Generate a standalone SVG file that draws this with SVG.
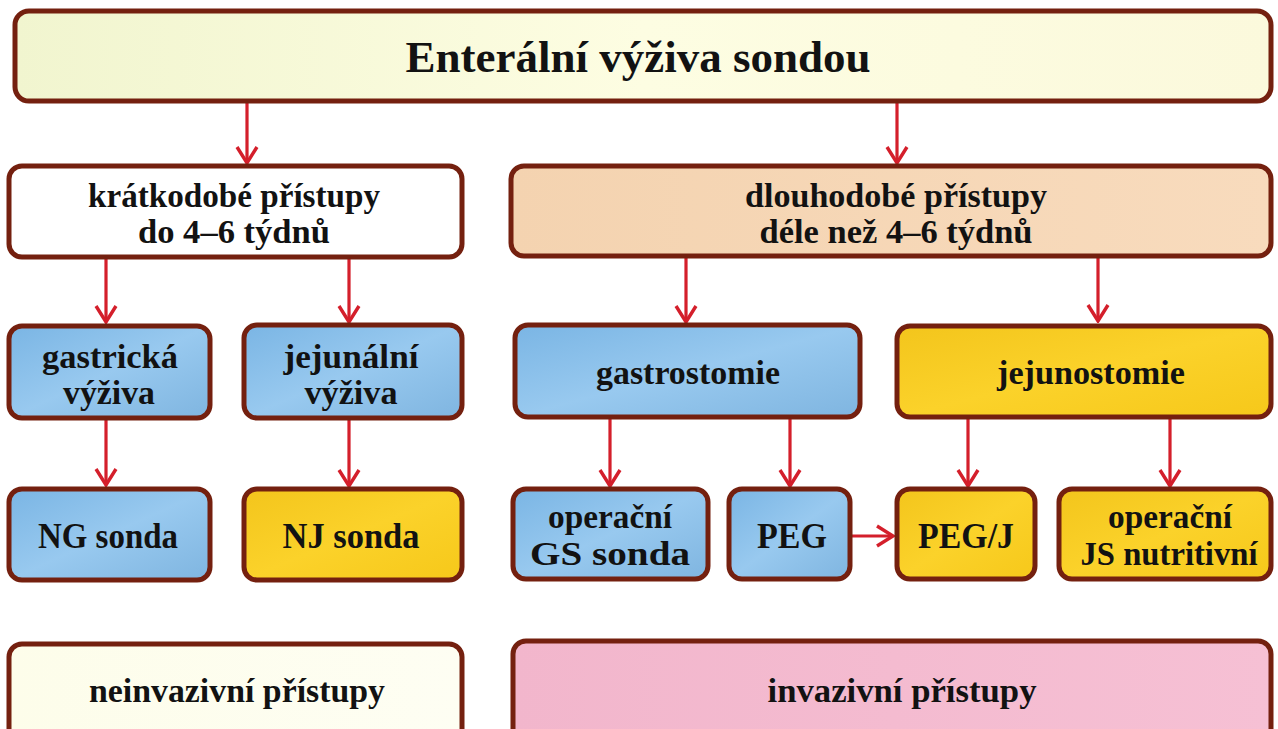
<svg xmlns="http://www.w3.org/2000/svg" width="1278" height="729" viewBox="0 0 1278 729">
<defs>
<style>
.box{stroke:#74200f;stroke-width:5}
.t{font-family:"Liberation Serif","Times New Roman",serif;font-weight:bold;fill:#121212;text-anchor:middle}
.t28{font-size:33px}
.t34{font-size:35px}
.t40{font-size:45px}
.con{stroke:#d41f2b;stroke-width:3.2;fill:none}
</style>
<linearGradient id="gTop" x1="0" y1="0" x2="1" y2="0"><stop offset="0" stop-color="#f1f5cf"/><stop offset="0.5" stop-color="#fdfde2"/><stop offset="1" stop-color="#fbf9dc"/></linearGradient>
<linearGradient id="gBlue" x1="0" y1="0" x2="1" y2="1"><stop offset="0" stop-color="#7ab5e4"/><stop offset="0.5" stop-color="#98c9ef"/><stop offset="1" stop-color="#7fb5e0"/></linearGradient>
<linearGradient id="gYel" x1="0" y1="0" x2="1" y2="1"><stop offset="0" stop-color="#f3c51c"/><stop offset="0.5" stop-color="#fbd22a"/><stop offset="1" stop-color="#f6c81a"/></linearGradient>
<linearGradient id="gPeach" x1="0" y1="0" x2="1" y2="0"><stop offset="0" stop-color="#f4d3b0"/><stop offset="1" stop-color="#f8dbbd"/></linearGradient>
<linearGradient id="gPink" x1="0" y1="0" x2="1" y2="0"><stop offset="0" stop-color="#f2b6cc"/><stop offset="1" stop-color="#f6c0d4"/></linearGradient>
<linearGradient id="gPale" x1="0" y1="0" x2="1" y2="0"><stop offset="0" stop-color="#fdfdea"/><stop offset="1" stop-color="#fefef3"/></linearGradient>
<marker id="arr" viewBox="0 0 22 24" refX="20" refY="12" markerWidth="22" markerHeight="24" markerUnits="userSpaceOnUse" orient="auto">
<path d="M4,2 L20,12 L4,22" fill="none" stroke="#d41f2b" stroke-width="3.4" stroke-linejoin="miter"/>
</marker>
</defs>
<rect width="1278" height="729" fill="#ffffff"/>

<g id="connectors">
<line class="con" x1="247" y1="103" x2="247" y2="163" marker-end="url(#arr)"/>
<line class="con" x1="897" y1="101" x2="897" y2="163" marker-end="url(#arr)"/>
<line class="con" x1="106" y1="258" x2="106" y2="322" marker-end="url(#arr)"/>
<line class="con" x1="349" y1="258" x2="349" y2="322" marker-end="url(#arr)"/>
<line class="con" x1="686" y1="258" x2="686" y2="322" marker-end="url(#arr)"/>
<line class="con" x1="1098" y1="257" x2="1098" y2="321" marker-end="url(#arr)"/>
<line class="con" x1="106" y1="419" x2="106" y2="485" marker-end="url(#arr)"/>
<line class="con" x1="349" y1="419" x2="349" y2="486" marker-end="url(#arr)"/>
<line class="con" x1="610" y1="419" x2="610" y2="486" marker-end="url(#arr)"/>
<line class="con" x1="790" y1="419" x2="790" y2="486" marker-end="url(#arr)"/>
<line class="con" x1="968" y1="419" x2="968" y2="486" marker-end="url(#arr)"/>
<line class="con" x1="1170" y1="419" x2="1170" y2="486" marker-end="url(#arr)"/>
<line class="con" x1="852" y1="536" x2="893" y2="536" marker-end="url(#arr)"/>
</g>

<g id="n-top">
<rect class="box" x="15" y="11" width="1256" height="90" rx="14" fill="url(#gTop)"/>
<text class="t t40" x="638" y="72" textLength="465" lengthAdjust="spacingAndGlyphs">Enterální výživa sondou</text>
</g>

<g id="n-kratkodobe">
<rect class="box" x="9" y="166" width="453" height="91" rx="13" fill="#ffffff"/>
<text class="t t28" x="234" y="207" textLength="292" lengthAdjust="spacingAndGlyphs">krátkodobé přístupy</text>
<text class="t t28" x="234" y="243" textLength="192" lengthAdjust="spacingAndGlyphs">do 4–6 týdnů</text>
</g>

<g id="n-dlouhodobe">
<rect class="box" x="511" y="166" width="760" height="90" rx="13" fill="url(#gPeach)"/>
<text class="t t28" x="896" y="207" textLength="302" lengthAdjust="spacingAndGlyphs">dlouhodobé přístupy</text>
<text class="t t28" x="896" y="243" textLength="273" lengthAdjust="spacingAndGlyphs">déle než 4–6 týdnů</text>
</g>

<g id="n-gastricka">
<rect class="box" x="9" y="326" width="201" height="92" rx="13" fill="url(#gBlue)"/>
<text class="t t28" x="110" y="368" textLength="136" lengthAdjust="spacingAndGlyphs">gastrická</text>
<text class="t t28" x="109" y="404" textLength="92" lengthAdjust="spacingAndGlyphs">výživa</text>
</g>

<g id="n-jejunalni">
<rect class="box" x="244" y="325" width="218" height="93" rx="13" fill="url(#gBlue)"/>
<text class="t t28" x="351" y="368" textLength="135" lengthAdjust="spacingAndGlyphs">jejunální</text>
<text class="t t28" x="351" y="404" textLength="93" lengthAdjust="spacingAndGlyphs">výživa</text>
</g>

<g id="n-gastrostomie">
<rect class="box" x="515" y="325" width="345" height="92" rx="13" fill="url(#gBlue)"/>
<text class="t t28" x="688" y="384" textLength="184" lengthAdjust="spacingAndGlyphs">gastrostomie</text>
</g>

<g id="n-jejunostomie">
<rect class="box" x="897" y="326" width="374" height="91" rx="13" fill="url(#gYel)"/>
<text class="t t28" x="1091" y="384" textLength="188" lengthAdjust="spacingAndGlyphs">jejunostomie</text>
</g>

<g id="n-ng">
<rect class="box" x="9" y="489" width="201" height="91" rx="13" fill="url(#gBlue)"/>
<text class="t t34" x="108" y="548" textLength="140" lengthAdjust="spacingAndGlyphs">NG sonda</text>
</g>

<g id="n-nj">
<rect class="box" x="244" y="489" width="218" height="91" rx="13" fill="url(#gYel)"/>
<text class="t t34" x="351" y="548" textLength="137" lengthAdjust="spacingAndGlyphs">NJ sonda</text>
</g>

<g id="n-gs">
<rect class="box" x="513" y="489" width="195" height="90" rx="13" fill="url(#gBlue)"/>
<text class="t t28" x="610" y="528" textLength="124" lengthAdjust="spacingAndGlyphs">operační</text>
<text class="t t28" x="610" y="565" textLength="160" lengthAdjust="spacingAndGlyphs">GS sonda</text>
</g>

<g id="n-peg">
<rect class="box" x="729" y="489" width="121" height="90" rx="13" fill="url(#gBlue)"/>
<text class="t t34" x="792" y="548" textLength="70" lengthAdjust="spacingAndGlyphs">PEG</text>
</g>

<g id="n-pegj">
<rect class="box" x="897" y="489" width="138" height="90" rx="13" fill="url(#gYel)"/>
<text class="t t34" x="966" y="548" textLength="96" lengthAdjust="spacingAndGlyphs">PEG/J</text>
</g>

<g id="n-js">
<rect class="box" x="1059" y="489" width="212" height="90" rx="13" fill="url(#gYel)"/>
<text class="t t28" x="1170" y="528" textLength="124" lengthAdjust="spacingAndGlyphs">operační</text>
<text class="t t28" x="1169" y="565" textLength="177" lengthAdjust="spacingAndGlyphs">JS nutritivní</text>
</g>

<g id="n-neinvazivni">
<rect class="box" x="9" y="644" width="453" height="100" rx="13" fill="url(#gPale)"/>
<text class="t t28" x="237" y="702" textLength="296" lengthAdjust="spacingAndGlyphs">neinvazivní přístupy</text>
</g>

<g id="n-invazivni">
<rect class="box" x="513" y="641" width="758" height="103" rx="13" fill="url(#gPink)"/>
<text class="t t28" x="902" y="702" textLength="269" lengthAdjust="spacingAndGlyphs">invazivní přístupy</text>
</g>
</svg>
